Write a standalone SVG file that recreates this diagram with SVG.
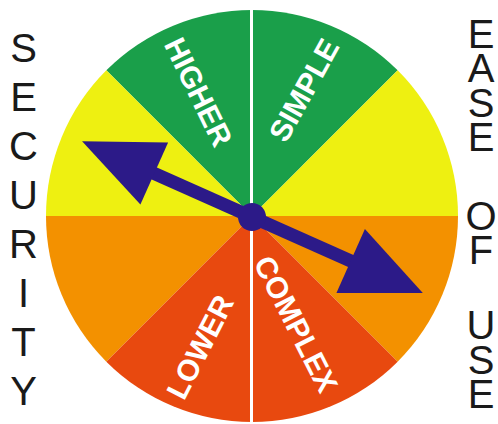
<svg xmlns="http://www.w3.org/2000/svg" width="498" height="424" viewBox="0 0 498 424">
<style>
.green{fill:#1a9f4a}
.yellow{fill:#eef011}
.orange{fill:#f39100}
.red{fill:#e8490f}
.navy{fill:#2c1a88}
.lbl{font-family:"Liberation Sans",Arial,sans-serif;font-weight:bold;font-size:30px;fill:#ffffff;text-anchor:middle}
.side{font-family:"Liberation Sans",Arial,sans-serif;font-size:40px;fill:#1a1a1a;text-anchor:middle}
</style>
<rect width="498" height="424" fill="#ffffff"/>
<g id="wheel">
<path class="green" d="M252,216 L106.34,70.34 A206,206 0 0 1 397.66,70.34 Z"/>
<path class="yellow" d="M252,216 L46,216 A206,206 0 0 1 106.34,70.34 Z"/>
<path class="yellow" d="M252,216 L397.66,70.34 A206,206 0 0 1 458,216 Z"/>
<path class="orange" d="M252,216 L106.34,361.66 A206,206 0 0 1 46,216 Z"/>
<path class="orange" d="M252,216 L458,216 A206,206 0 0 1 397.66,361.66 Z"/>
<path class="red" d="M252,216 L397.66,361.66 A206,206 0 0 1 106.34,361.66 Z"/>
<rect x="250" y="10" width="3" height="412" fill="#ffffff"/>
</g>
<g id="label-higher"><text class="lbl" transform="translate(198.5,92) rotate(64)" dy="10.5">HIGHER</text></g>
<g id="label-simple"><text class="lbl" transform="translate(304,90) rotate(-61)" dy="10.5">SIMPLE</text></g>
<g id="label-lower"><text class="lbl" transform="translate(200,347) rotate(-63)" dy="10.5">LOWER</text></g>
<g id="label-complex"><text class="lbl" transform="translate(296,324) rotate(63)" dy="10.5">COMPLEX</text></g>
<g id="connectors">
<g transform="translate(252,217) rotate(24)">
<rect class="navy" x="-110" y="-6.5" width="220" height="13"/>
<polygon class="navy" points="-186,0 -107,-34 -107,34"/>
<polygon class="navy" points="187,0 108,-35 108,35"/>
<circle class="navy" cx="0" cy="0" r="14"/>
</g>
</g>
<g id="security">
<text class="side" x="23.5" y="62">S</text>
<text class="side" x="23.5" y="111">E</text>
<text class="side" x="23.5" y="160">C</text>
<text class="side" x="23.5" y="209">U</text>
<text class="side" x="23.5" y="258">R</text>
<text class="side" x="23.5" y="307">I</text>
<text class="side" x="23.5" y="356">T</text>
<text class="side" x="23.5" y="405">Y</text>
</g>
<g id="ease-of-use">
<text class="side" x="481" y="48">E</text>
<text class="side" x="481" y="82">A</text>
<text class="side" x="481" y="117">S</text>
<text class="side" x="481" y="151">E</text>
<text class="side" x="481" y="230">O</text>
<text class="side" x="481" y="264">F</text>
<text class="side" x="481" y="339">U</text>
<text class="side" x="481" y="374">S</text>
<text class="side" x="481" y="408">E</text>
</g>
</svg>
